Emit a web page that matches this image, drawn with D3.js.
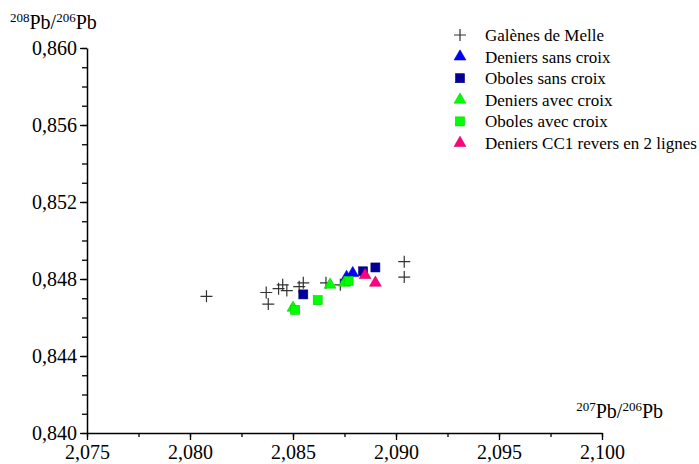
<!DOCTYPE html>
<html>
<head>
<meta charset="utf-8">
<script src="https://cdn.jsdelivr.net/npm/d3@7"></script>
<style>
body { margin: 0; background: #fff; }
</style>
</head>
<body>
<svg id="chart"></svg>
<script>
// series: [207Pb/206Pb, 208Pb/206Pb]
var galenes = [[2.0808,0.8471],[2.0837,0.8473],[2.0838,0.8467],[2.0843,0.8475],[2.0845,0.8477],
  [2.0847,0.8474],[2.0853,0.8476],[2.0855,0.8478],[2.0866,0.8478],[2.0873,0.8477],[2.0904,0.8489],[2.0904,0.8481]];
var deniersSans = [[2.0876,0.8481],[2.0879,0.8483]];
var obolesSans = [[2.0855,0.8472],[2.0884,0.8484],[2.0890,0.8486]];
var deniersAvec = [[2.0850,0.8465],[2.0868,0.8477],[2.0875,0.8478]];
var obolesAvec = [[2.0851,0.8464],[2.0862,0.8469],[2.0877,0.8479]];
var deniersCC1 = [[2.0885,0.8482],[2.0890,0.8478]];

var xTicks = [2.075, 2.080, 2.085, 2.090, 2.095, 2.100];
var yTicks = [0.840, 0.844, 0.848, 0.852, 0.856, 0.860];

var series = [
  {name: "Galènes de Melle", data: galenes, shape: "cross", color: "#333"},
  {name: "Deniers sans croix", data: deniersSans, shape: "tri", color: "#0000ff"},
  {name: "Oboles sans croix", data: obolesSans, shape: "sq", color: "#000099"},
  {name: "Deniers avec croix", data: deniersAvec, shape: "tri", color: "#00ff00"},
  {name: "Oboles avec croix", data: obolesAvec, shape: "sq", color: "#00ff00"},
  {name: "Deniers CC1 revers en 2 lignes", data: deniersCC1, shape: "tri", color: "#ff0080"}
];

var FONT = "Liberation Serif";
var svg = d3.select("#chart").attr("width", 699).attr("height", 464).attr("font-family", FONT);
var x = d3.scaleLinear().domain([2.075, 2.100]).range([87, 602]);
var y = d3.scaleLinear().domain([0.840, 0.860]).range([433, 48]);
var fmt = function(d){ return d3.format(".3f")(d).replace(".", ","); };

// x axis
svg.append("g").attr("transform", "translate(0,433)")
  .call(d3.axisBottom(x).tickValues(d3.range(2.075, 2.1001, 0.0025)).tickSize(4).tickFormat(""))
  .call(function(g){ g.select(".domain").remove(); g.selectAll("line").attr("stroke-width", 1.3); });
var xa = svg.append("g").attr("transform", "translate(0,433)")
  .call(d3.axisBottom(x).tickValues(xTicks).tickSize(7).tickSizeOuter(0).tickPadding(3).tickFormat(fmt))
  .attr("font-family", FONT).attr("font-size", 20);
xa.select(".domain").attr("stroke-width", 1.5);
xa.selectAll("line").attr("stroke-width", 1.3);
xa.selectAll("text").attr("dy", "0.8em").attr("font-family", FONT);

// y axis
svg.append("g").attr("transform", "translate(87,0)")
  .call(d3.axisLeft(y).tickValues(d3.range(0.840, 0.8601, 0.001)).tickSize(5).tickFormat(""))
  .call(function(g){ g.select(".domain").remove(); g.selectAll("line").attr("stroke-width", 1.3); });
var ya = svg.append("g").attr("transform", "translate(87,0)")
  .call(d3.axisLeft(y).tickValues(yTicks).tickSize(7).tickSizeOuter(0).tickPadding(3).tickFormat(fmt))
  .attr("font-family", FONT).attr("font-size", 20);
ya.select(".domain").attr("stroke-width", 1.5);
ya.selectAll("line").attr("stroke-width", 1.3);
ya.selectAll("text").attr("font-family", FONT);

// axis titles
function isoTitle(tx, ty, a, b, anchor) {
  var t = svg.append("text").attr("x", tx).attr("y", ty).attr("text-anchor", anchor)
    .attr("font-family", FONT).attr("font-size", 20);
  t.append("tspan").text(a).attr("font-size", 13).attr("dy", "-7");
  t.append("tspan").text("Pb/").attr("dy", "7");
  t.append("tspan").text(b).attr("font-size", 13).attr("dy", "-7");
  t.append("tspan").text("Pb").attr("dy", "7");
}
isoTitle(10, 29, "208", "206", "start");
isoTitle(663, 418, "207", "206", "end");

// markers
function drawMarker(g, s, cx, cy) {
  if (s.shape === "cross") {
    g.append("path").attr("d", "M" + (cx - 6) + "," + cy + "h12M" + cx + "," + (cy - 6) + "v12")
      .attr("stroke", s.color).attr("stroke-width", 1.2).attr("fill", "none");
  } else if (s.shape === "tri") {
    g.append("path").attr("d", d3.symbol(d3.symbolTriangle, 60)()).attr("transform", "translate(" + cx + "," + cy + ")")
      .attr("fill", s.color).attr("stroke", d3.color(s.color).darker(0.6)).attr("stroke-width", 0.6);
  } else {
    g.append("rect").attr("x", cx - 4.5).attr("y", cy - 4.5).attr("width", 9).attr("height", 9)
      .attr("fill", s.color).attr("stroke", d3.color(s.color).darker(0.6)).attr("stroke-width", 0.6);
  }
}

var pts = svg.append("g");
series.forEach(function(s){
  s.data.forEach(function(d){ drawMarker(pts, s, x(d[0]), y(d[1])); });
});

// legend
var lg = svg.append("g");
series.forEach(function(s, i){
  var ly = 35 + i * 21.6;
  drawMarker(lg, s, 460, ly);
  lg.append("text").attr("x", 485).attr("y", ly).attr("dy", "0.35em")
    .attr("font-family", FONT).attr("font-size", 17).text(s.name);
});
</script>
</body>
</html>
